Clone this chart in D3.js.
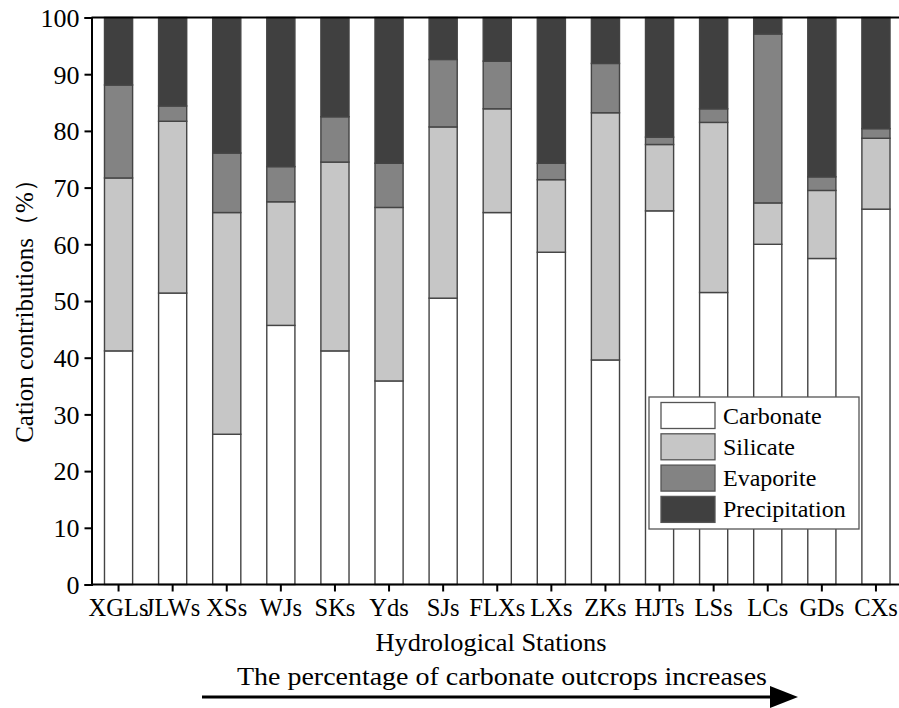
<!DOCTYPE html>
<html>
<head>
<meta charset="utf-8">
<script src="https://cdn.jsdelivr.net/npm/d3@7"></script>
<style>
  html, body { margin: 0; padding: 0; background: #fff; }
  svg text { font-family: "Liberation Serif", "Times New Roman", Tinos, "DejaVu Serif", serif; }
</style>
</head>
<body>
<svg id="chart" width="899" height="708"></svg>
<script>
// Hydrological stations, ordered by increasing carbonate outcrop share
const stations = ["XGLs", "JLWs", "XSs", "WJs", "SKs", "Yds", "SJs", "FLXs", "LXs", "ZKs", "HJTs", "LSs", "LCs", "GDs", "CXs"];

// Cation contributions (%) per source
const carbonate     = [41.2, 51.4, 26.5, 45.7, 41.2, 35.9, 50.5, 65.6, 58.6, 39.6, 65.9, 51.5, 60.0, 57.5, 66.2];
const silicate      = [30.5, 30.3, 39.1, 21.8, 33.3, 30.6, 30.2, 18.3, 12.8, 43.6, 11.7, 30.0,  7.3, 12.0, 12.5];
const evaporite     = [16.4,  2.7, 10.5,  6.2,  8.0,  7.8, 11.9,  8.4,  2.9,  8.7,  1.3,  2.4, 29.8,  2.4,  1.7];
const precipitation = [11.9, 15.6, 23.9, 26.3, 17.5, 25.7,  7.4,  7.7, 25.7,  8.1, 21.1, 16.1,  2.9, 28.1, 19.6];

const sources = ["Carbonate", "Silicate", "Evaporite", "Precipitation"];
const yTicks = [0, 10, 20, 30, 40, 50, 60, 70, 80, 90, 100];

const colors = {
  Carbonate: "#ffffff",
  Silicate: "#c6c6c6",
  Evaporite: "#838383",
  Precipitation: "#404040"
};

const rows = stations.map((s, i) => ({
  station: s,
  Carbonate: carbonate[i],
  Silicate: silicate[i],
  Evaporite: evaporite[i],
  Precipitation: precipitation[i]
}));

const svg = d3.select("#chart");
const plotLeft = 91.5, plotRight = 903, plotTop = 17.5, plotBottom = 584.5;

const x = d3.scaleBand()
  .domain(stations)
  .range([plotLeft, plotRight])
  .paddingInner(0.48)
  .paddingOuter(0.24);

const y = d3.scaleLinear().domain([0, 100]).range([plotBottom, plotTop]);

const stacked = d3.stack().keys(sources)(rows);

// Stacked bars
const layers = svg.append("g")
  .selectAll("g")
  .data(stacked)
  .join("g")
  .attr("fill", d => colors[d.key]);

layers.selectAll("rect")
  .data(d => d)
  .join("rect")
  .attr("x", d => x(d.data.station))
  .attr("width", x.bandwidth())
  .attr("y", d => y(d[1]))
  .attr("height", d => y(d[0]) - y(d[1]))
  .attr("stroke", "#444")
  .attr("stroke-width", 1.4);

// Top border of the plot
svg.append("line")
  .attr("x1", plotLeft).attr("x2", 899)
  .attr("y1", y(100)).attr("y2", y(100))
  .attr("stroke", "#000").attr("stroke-width", 2);

// Y axis
const yAxis = svg.append("g")
  .attr("transform", `translate(${plotLeft},0)`)
  .call(d3.axisLeft(y).tickValues(yTicks).tickSize(7).tickPadding(5));
yAxis.attr("font-family", null);
yAxis.select(".domain").attr("stroke-width", 2);
yAxis.selectAll(".tick line").attr("stroke-width", 2);
yAxis.selectAll(".tick text")
  .attr("font-size", 26)
  .attr("fill", "#000")
  .attr("dy", "0.34em");

// X axis
const xAxis = svg.append("g")
  .attr("transform", `translate(0,${plotBottom})`)
  .call(d3.axisBottom(x).tickSize(7).tickSizeOuter(0).tickPadding(7));
xAxis.attr("font-family", null);
xAxis.select(".domain").attr("stroke-width", 2).attr("d", `M${plotLeft},0H899`);
xAxis.selectAll(".tick line").attr("stroke-width", 2);
xAxis.selectAll(".tick text")
  .attr("font-size", 24.5)
  .attr("fill", "#000");

// Axis titles
svg.append("text")
  .attr("x", 491)
  .attr("y", 651)
  .attr("text-anchor", "middle")
  .attr("font-size", 25)
  .attr("textLength", 231)
  .attr("lengthAdjust", "spacingAndGlyphs")
  .text("Hydrological Stations");

svg.append("text")
  .attr("transform", `translate(33,${(plotTop + plotBottom) / 2 + 4}) rotate(-90)`)
  .attr("text-anchor", "middle")
  .attr("font-size", 25)
  .text("Cation contributions（%）");

// Trend annotation with arrow
svg.append("text")
  .attr("x", 502)
  .attr("y", 685)
  .attr("text-anchor", "middle")
  .attr("font-size", 26)
  .attr("textLength", 530)
  .attr("lengthAdjust", "spacingAndGlyphs")
  .text("The percentage of carbonate outcrops increases");

svg.append("line")
  .attr("x1", 202).attr("x2", 772)
  .attr("y1", 697).attr("y2", 697)
  .attr("stroke", "#000").attr("stroke-width", 3);

svg.append("path")
  .attr("d", "M770,686 L798,697 L770,708 Z")
  .attr("fill", "#000");

// Legend
const legend = svg.append("g").attr("transform", "translate(649,397)");
legend.append("rect")
  .attr("width", 210).attr("height", 132)
  .attr("fill", "#fff").attr("stroke", "#555").attr("stroke-width", 1.3);

const item = legend.selectAll("g.item")
  .data(sources)
  .join("g")
  .attr("class", "item")
  .attr("transform", (d, i) => `translate(12,${5.5 + i * 31.3})`);

item.append("rect")
  .attr("width", 54).attr("height", 26)
  .attr("fill", d => colors[d])
  .attr("stroke", "#555").attr("stroke-width", 1.3);

item.append("text")
  .attr("x", 62).attr("y", 21)
  .attr("font-size", 24)
  .text(d => d);
</script>
</body>
</html>
